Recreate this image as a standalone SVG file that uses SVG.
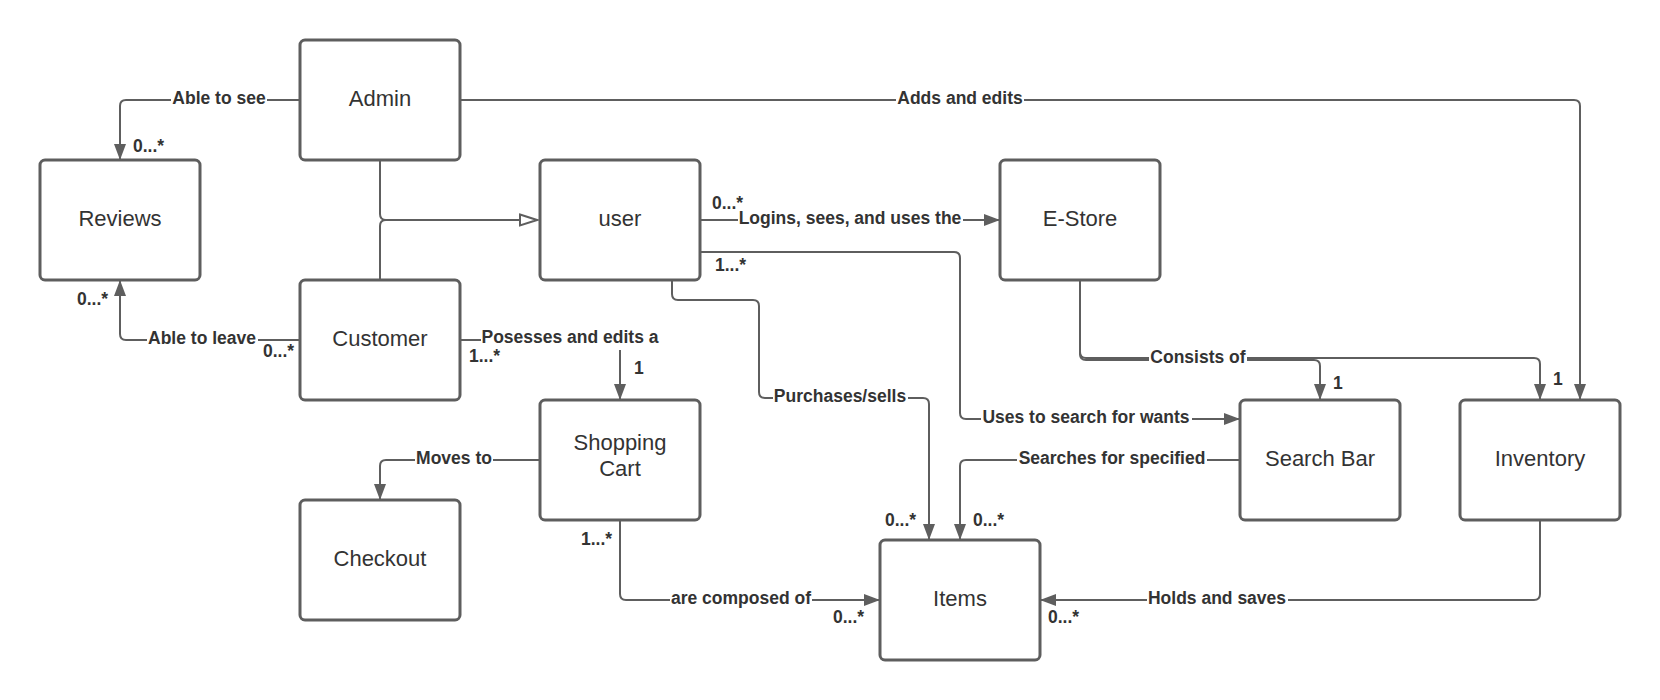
<svg xmlns="http://www.w3.org/2000/svg" width="1660" height="700" viewBox="0 0 1660 700">
<defs>
<style>
.node rect{fill:#fff;stroke:#5e5e5e;stroke-width:3}
.node text{font-family:"Liberation Sans",Arial,sans-serif;font-size:22px;fill:#333;text-anchor:middle}
.c{fill:none;stroke:#5e5e5e;stroke-width:2}
.arr{marker-end:url(#ah)}
.lbg{fill:#fff}
.lbl{font-family:"Liberation Sans",Arial,sans-serif;font-size:17.5px;font-weight:bold;fill:#333;text-anchor:middle}
.m{font-family:"Liberation Sans",Arial,sans-serif;font-size:17.5px;font-weight:bold;fill:#333}
</style>
<marker id="ah" markerUnits="userSpaceOnUse" markerWidth="16" markerHeight="12" refX="16" refY="6" orient="auto">
<path d="M0,0 L16,6 L0,12 z" fill="#5e5e5e"/>
</marker>
<marker id="gen" markerUnits="userSpaceOnUse" markerWidth="20" markerHeight="15" refX="18" refY="7.5" orient="auto">
<path d="M1,2 L18,7.5 L1,13 z" fill="#fff" stroke="#5e5e5e" stroke-width="2"/>
</marker>
</defs>
<rect width="1660" height="700" fill="#fff"/>

<g id="connectors">
<path class="c arr" d="M300,100 H126 Q120,100 120,106 V160"/>
<path class="c arr" d="M300,340 H126 Q120,340 120,334 V280"/>
<path class="c arr" d="M460,100 H1574 Q1580,100 1580,106 V400"/>
<path class="c" d="M380,160 V214 Q380,220 386,220 H537" marker-end="url(#gen)"/>
<path class="c" d="M380,280 V226 Q380,220 386,220"/>
<path class="c arr" d="M700,220 H1000"/>
<path class="c" d="M700,220 H740" stroke-width="3"/>
<path class="c arr" d="M700,252 H954 Q960,252 960,258 V413 Q960,419 966,419 H1240"/>
<path class="c arr" d="M672,280 V294 Q672,300 678,300 H753 Q759,300 759,306 V392 Q759,398 765,398 H923 Q929,398 929,404 V540"/>
<path class="c arr" d="M460,340 H614 Q620,340 620,346 V400"/>
<path class="c" d="M460,340 H482" stroke-width="3"/>
<path class="c arr" d="M540,460 H386 Q380,460 380,466 V500"/>
<path class="c arr" d="M620,520 V594 Q620,600 626,600 H880"/>
<path class="c arr" d="M1080,280 V352 Q1080,358 1086,358 H1534 Q1540,358 1540,364 V400"/>
<path class="c arr" d="M1080,280 V354 Q1080,360 1086,360 H1314 Q1320,360 1320,366 V400"/>
<path class="c arr" d="M1240,460 H966 Q960,460 960,466 V540"/>
<path class="c arr" d="M1540,520 V594 Q1540,600 1534,600 H1040"/>

<rect class="lbg" x="171" y="90" width="96" height="20"/>
<text class="lbl" x="219" y="103.5">Able to see</text>
<rect class="lbg" x="147" y="330" width="111" height="20"/>
<text class="lbl" x="202" y="343.5">Able to leave</text>
<rect class="lbg" x="896" y="90" width="128" height="20"/>
<text class="lbl" x="960" y="103.5">Adds and edits</text>
<rect class="lbg" x="738" y="210" width="225" height="20"/>
<text class="lbl" x="850" y="223.5">Logins, sees, and uses the</text>
<rect class="lbg" x="981" y="409" width="211" height="20"/>
<text class="lbl" x="1086" y="422.5">Uses to search for wants</text>
<rect class="lbg" x="773" y="388" width="135" height="20"/>
<text class="lbl" x="840" y="402">Purchases/sells</text>
<rect class="lbg" x="481" y="330" width="179" height="20"/>
<text class="lbl" x="570" y="343">Posesses and edits a</text>
<rect class="lbg" x="415" y="450" width="78" height="20"/>
<text class="lbl" x="454" y="463.5">Moves to</text>
<rect class="lbg" x="670" y="590" width="142" height="20"/>
<text class="lbl" x="741" y="603.5">are composed of</text>
<rect class="lbg" x="1149" y="348" width="98" height="20"/>
<text class="lbl" x="1198" y="363">Consists of</text>
<rect class="lbg" x="1017" y="450" width="190" height="20"/>
<text class="lbl" x="1112" y="463.5">Searches for specified</text>
<rect class="lbg" x="1147" y="590" width="141" height="20"/>
<text class="lbl" x="1217" y="603.5">Holds and saves</text>

<text class="m" x="133" y="152">0...*</text>
<text class="m" x="77" y="305">0...*</text>
<text class="m" x="263" y="357">0...*</text>
<text class="m" x="469" y="362">1...*</text>
<text class="m" x="634" y="374">1</text>
<text class="m" x="712" y="209">0...*</text>
<text class="m" x="715" y="271">1...*</text>
<text class="m" x="885" y="526">0...*</text>
<text class="m" x="973" y="526">0...*</text>
<text class="m" x="581" y="545">1...*</text>
<text class="m" x="833" y="623">0...*</text>
<text class="m" x="1048" y="623">0...*</text>
<text class="m" x="1333" y="389">1</text>
<text class="m" x="1553" y="385">1</text>
</g>

<g id="admin" class="node"><rect x="300" y="40" width="160" height="120" rx="5"/><text x="380" y="106">Admin</text></g>
<g id="reviews" class="node"><rect x="40" y="160" width="160" height="120" rx="5"/><text x="120" y="226">Reviews</text></g>
<g id="user" class="node"><rect x="540" y="160" width="160" height="120" rx="5"/><text x="620" y="226">user</text></g>
<g id="estore" class="node"><rect x="1000" y="160" width="160" height="120" rx="5"/><text x="1080" y="226">E-Store</text></g>
<g id="customer" class="node"><rect x="300" y="280" width="160" height="120" rx="5"/><text x="380" y="346">Customer</text></g>
<g id="shopping-cart" class="node"><rect x="540" y="400" width="160" height="120" rx="5"/><text x="620" y="450">Shopping</text><text x="620" y="476">Cart</text></g>
<g id="checkout" class="node"><rect x="300" y="500" width="160" height="120" rx="5"/><text x="380" y="566">Checkout</text></g>
<g id="search-bar" class="node"><rect x="1240" y="400" width="160" height="120" rx="5"/><text x="1320" y="466">Search Bar</text></g>
<g id="inventory" class="node"><rect x="1460" y="400" width="160" height="120" rx="5"/><text x="1540" y="466">Inventory</text></g>
<g id="items" class="node"><rect x="880" y="540" width="160" height="120" rx="5"/><text x="960" y="606">Items</text></g>
</svg>
